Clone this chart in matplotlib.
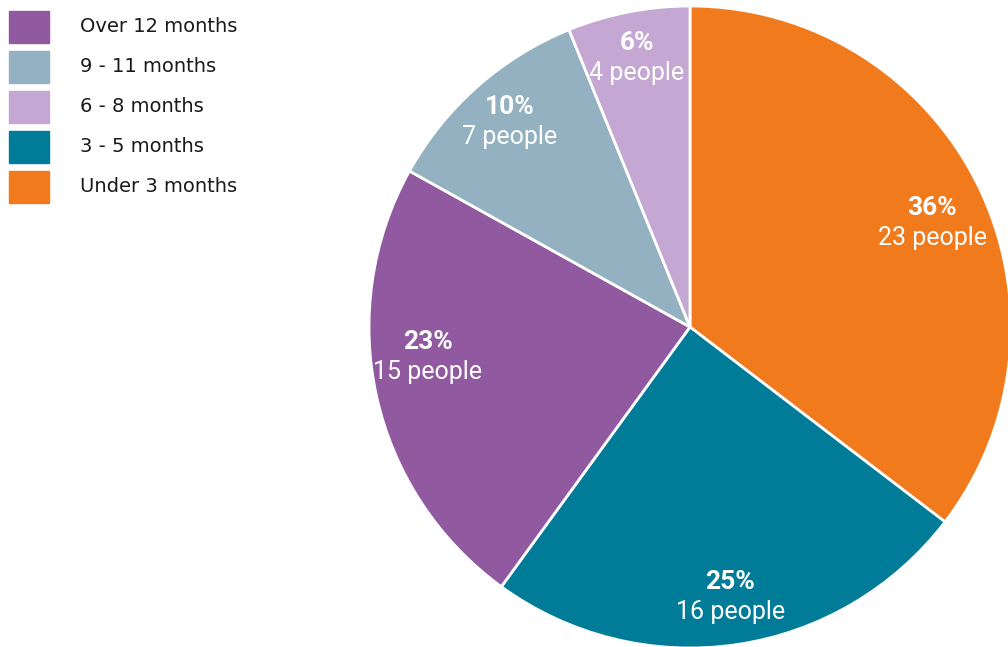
import numpy as np
import matplotlib.pyplot as plt
from matplotlib.patches import Rectangle

# data, clockwise from 12 o'clock
categories = ['Under 3 months', '3 - 5 months', 'Over 12 months', '9 - 11 months', '6 - 8 months']
people = [23, 16, 15, 7, 4]
pct_labels = ['36%', '25%', '23%', '10%', '6%']
colors = ['#F07A1C', '#007C99', '#9159A0', '#93B1C0', '#C4A8D3']

legend_order = ['Over 12 months', '9 - 11 months', '6 - 8 months', '3 - 5 months', 'Under 3 months']

# where the label blocks sit, in pie radius units
label_xy = [(0.754, 0.323), (0.125, -0.841), (-0.817, -0.093), (-0.561, 0.639), (-0.165, 0.838)]

W, H = 1008, 647
fig = plt.figure(figsize=(W / 100, H / 100), dpi=100)

cx, cy, r = 690, 327, 321
ax = fig.add_axes([(cx - r) / W, (H - cy - r) / H, 2 * r / W, 2 * r / H])
wedges, _ = ax.pie(people, colors=colors, startangle=90, counterclock=False,
                   wedgeprops=dict(edgecolor='white', linewidth=2))
ax.set_xlim(-1, 1)
ax.set_ylim(-1, 1)
ax.set_aspect('equal')
ax.axis('off')

for (x, y), pct, n in zip(label_xy, pct_labels, people):
    ax.text(x, y + 8 / r, pct, ha='center', va='baseline', color='white',
            fontsize=19, fontweight='bold', family='Roboto')
    ax.text(x, y - 22 / r, f'{n} people', ha='center', va='baseline', color='white',
            fontsize=18, family='Roboto')

# legend
for i, lab in enumerate(legend_order):
    c = colors[categories.index(lab)]
    top = 11 + i * 40
    fig.patches.append(Rectangle((9 / W, 1 - (top + 32) / H), 40 / W, 32 / H,
                                 transform=fig.transFigure, color=c))
    fig.text(80 / W, 1 - (top + 16) / H, lab, ha='left', va='center',
             fontsize=14, color='#1a1a1a')

fig.savefig('out.png', dpi=100)
